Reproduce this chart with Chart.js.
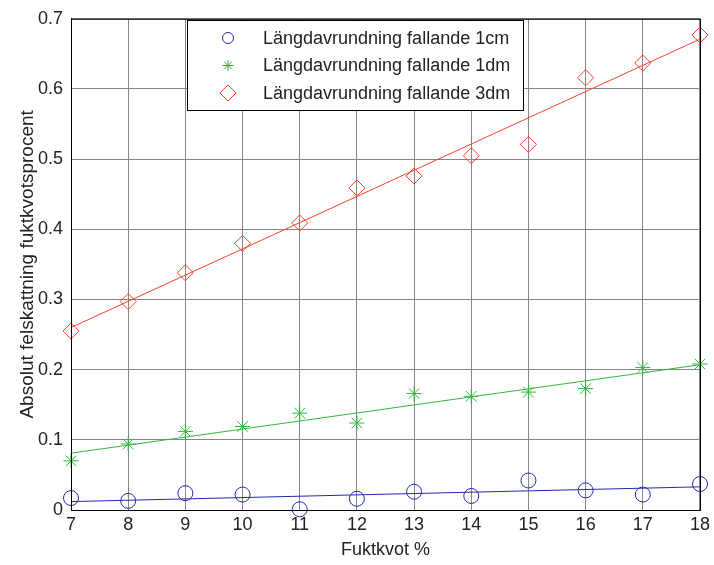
<!DOCTYPE html>
<html>
<head>
<meta charset="utf-8">
<script src="https://cdn.jsdelivr.net/npm/chart.js@4/dist/chart.umd.min.js"></script>
<style>
  html, body { margin: 0; padding: 0; background: #fff; }
  #wrap { width: 714px; height: 565px; position: relative; }
</style>
</head>
<body>
<div id="wrap"><canvas id="chart" width="714" height="565"></canvas></div>
<script>
// Data
const fuktkvot = [7, 8, 9, 10, 11, 12, 13, 14, 15, 16, 17, 18];
const fel1cm = [0.017, 0.013, 0.024, 0.022, 0.001, 0.016, 0.026, 0.020, 0.042, 0.028, 0.022, 0.037];
const fel1dm = [0.070, 0.094, 0.112, 0.119, 0.138, 0.124, 0.166, 0.162, 0.168, 0.173, 0.203, 0.208];
const fel3dm = [0.255, 0.297, 0.338, 0.380, 0.409, 0.459, 0.476, 0.505, 0.521, 0.616, 0.637, 0.677];

// fitted lines, end points at x = 7 and x = 18
const fitX = [7, 18];
const fit1cm = [0.012, 0.033];
const fit1dm = [0.081, 0.207];
const fit3dm = [0.260, 0.671];

const labels = ['Längdavrundning fallande 1cm', 'Längdavrundning fallande 1dm', 'Längdavrundning fallande 3dm'];
const colors = ['rgb(40,40,170)', 'rgb(50,185,60)', 'rgb(245,65,40)'];
const markers = ['circle', 'star', 'rectRot'];

const FONT = 'Liberation Sans, Arial, sans-serif';
const TXT = '#222';

const pts = (xs, ys) => xs.map((x, i) => ({ x: x, y: ys[i] }));

const scatterSet = (i, ys) => ({
    type: 'scatter',
    label: labels[i],
    data: pts(fuktkvot, ys),
    showLine: false,
    clip: false,
    pointStyle: markers[i],
    pointRadius: markers[i] === 'rectRot' ? 8 : 7.5,
    pointBorderWidth: 1,
    borderColor: colors[i],
    pointBorderColor: colors[i],
    backgroundColor: 'rgba(0,0,0,0)',
    pointBackgroundColor: 'rgba(0,0,0,0)'
});

const fitSet = (i, ys) => ({
    type: 'line',
    label: 'fit' + i,
    data: pts(fitX, ys),
    borderColor: colors[i],
    borderWidth: 1,
    pointRadius: 0,
    fill: false
});

// Box around the plot area + legend inside it
const boxPlugin = {
    id: 'box',
    afterDraw(chart) {
        const { ctx, chartArea: a } = chart;
        ctx.save();
        ctx.strokeStyle = '#000';
        ctx.lineWidth = 1;
        ctx.strokeRect(a.left + 0.5, a.top + 0.5, a.right - a.left, a.bottom - a.top);

        // legend
        const lx = 187, ly = 20, lw = 336, lh = 90;
        ctx.fillStyle = '#fff';
        ctx.fillRect(lx, ly, lw, lh);
        ctx.strokeStyle = '#000';
        ctx.strokeRect(lx + 0.5, ly + 0.5, lw, lh);
        ctx.font = '18px ' + FONT;
        ctx.textBaseline = 'middle';
        for (let i = 0; i < 3; i++) {
            const yy = ly + 18 + i * 27.5;
            ctx.strokeStyle = colors[i];
            ctx.fillStyle = 'rgba(0,0,0,0)';
            ctx.lineWidth = 1;
            Chart.helpers.drawPoint(ctx, {
                pointStyle: markers[i],
                radius: markers[i] === 'rectRot' ? 8 : 5.5,
                borderWidth: 1,
                rotation: 0
            }, 228, yy);
            ctx.fillStyle = TXT;
            ctx.fillText(labels[i], 263, yy + 1);
        }
        ctx.restore();
    }
};

new Chart(document.getElementById('chart'), {
    data: {
        datasets: [
            scatterSet(0, fel1cm), fitSet(0, fit1cm),
            scatterSet(1, fel1dm), fitSet(1, fit1dm),
            scatterSet(2, fel3dm), fitSet(2, fit3dm)
        ]
    },
    options: {
        responsive: false,
        animation: false,
        layout: { padding: { top: 14, right: 12, left: 0, bottom: 0 } },
        plugins: { legend: { display: false }, tooltip: { enabled: false } },
        scales: {
            x: {
                type: 'linear',
                min: 7, max: 18,
                ticks: { stepSize: 1, color: TXT, font: { family: FONT, size: 18 }, padding: 4 },
                grid: { color: '#858585', lineWidth: 1, drawTicks: false },
                border: { color: '#000' },
                title: { display: true, text: 'Fuktkvot %', color: TXT, font: { family: FONT, size: 18 }, padding: { top: 0 } },
                afterFit(s) { s.height = 55; }
            },
            y: {
                min: 0, max: 0.7,
                ticks: {
                    stepSize: 0.1, color: TXT, font: { family: FONT, size: 18 }, padding: 8,
                    callback: v => String(+v.toFixed(1))
                },
                grid: { color: '#858585', lineWidth: 1, drawTicks: false },
                border: { color: '#000' },
                title: { display: true, text: 'Absolut felskattning fuktkvotsprocent', color: TXT, font: { family: FONT, size: 19 }, padding: { top: 16, bottom: 0 } },
                afterFit(s) { s.width = 71; }
            }
        }
    },
    plugins: [boxPlugin]
});
</script>
</body>
</html>
